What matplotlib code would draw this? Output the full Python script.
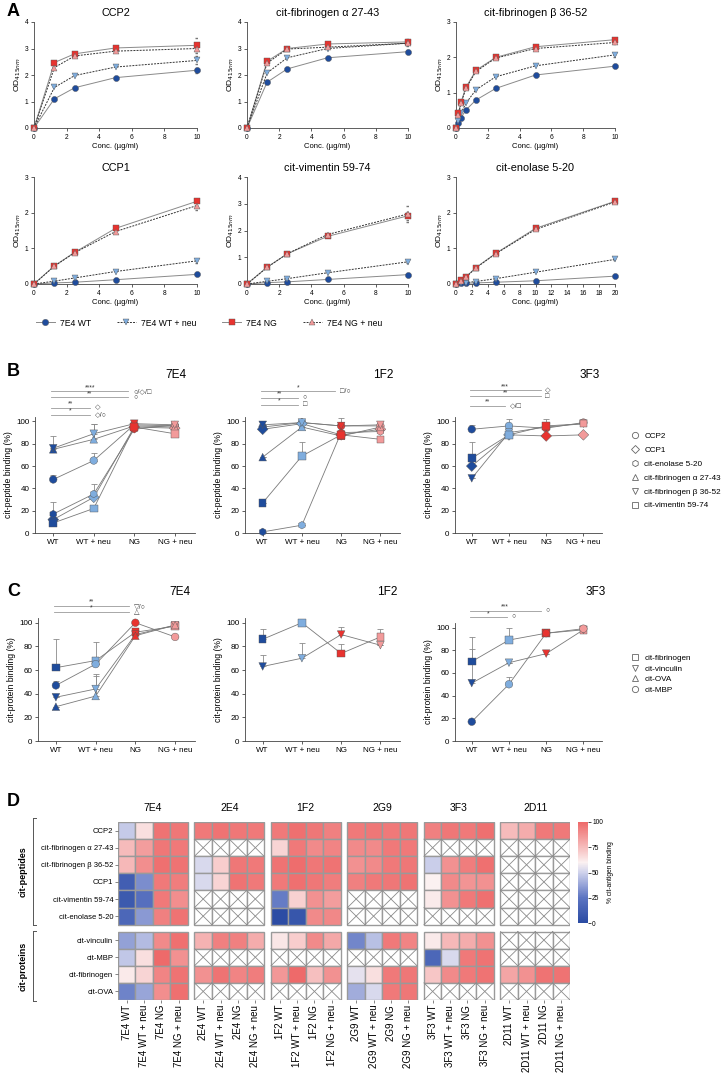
import numpy as np
import matplotlib
matplotlib.use("Agg")
import matplotlib.pyplot as plt
from matplotlib.colors import LinearSegmentedColormap, Normalize
from matplotlib.patches import Rectangle
from matplotlib.lines import Line2D
import matplotlib.cm as cm

plt.rcParams['font.family'] = ['Liberation Sans', 'DejaVu Sans']

# ---------------- data ----------------
# panel A: ELISA titrations (OD415)
conc = [0, 1.25, 2.5, 5, 10]
conc_fb = [0, 0.156, 0.3125, 0.625, 1.25, 2.5, 5, 10]
conc_en = [0, 0.625, 1.25, 2.5, 5, 10, 20]
a_titles = ['CCP2', 'cit-fibrinogen α 27-43', 'cit-fibrinogen β 36-52',
            'CCP1', 'cit-vimentin 59-74', 'cit-enolase 5-20']
a_x = [conc, conc, conc_fb, conc, conc, conc_en]
a_wt = [[0, 1.1, 1.52, 1.9, 2.18],
        [0, 1.73, 2.23, 2.65, 2.88],
        [0, 0.15, 0.29, 0.51, 0.79, 1.12, 1.5, 1.75],
        [0, 0.03, 0.05, 0.12, 0.27],
        [0, 0.05, 0.08, 0.17, 0.35],
        [0, 0.02, 0.02, 0.03, 0.05, 0.09, 0.22]]
a_wtn = [[0, 1.53, 1.98, 2.3, 2.55],
         [0, 2.08, 2.65, 3.0, 3.2],
         [0, 0.2, 0.42, 0.7, 1.08, 1.45, 1.76, 2.07],
         [0, 0.08, 0.17, 0.35, 0.65],
         [0, 0.1, 0.2, 0.42, 0.83],
         [0, 0.02, 0.04, 0.07, 0.15, 0.33, 0.69]]
a_ng = [[0, 2.47, 2.8, 3.02, 3.12],
        [0, 2.52, 3.0, 3.17, 3.25],
        [0, 0.42, 0.73, 1.15, 1.63, 2.0, 2.3, 2.5],
        [0, 0.51, 0.89, 1.56, 2.32],
        [0, 0.63, 1.13, 1.78, 2.55],
        [0, 0.1, 0.2, 0.46, 0.86, 1.56, 2.32]]
a_ngn = [[0, 2.28, 2.72, 2.9, 3.0],
         [0, 2.45, 2.98, 3.05, 3.2],
         [0, 0.38, 0.7, 1.12, 1.6, 1.98, 2.25, 2.42],
         [0, 0.5, 0.88, 1.47, 2.2],
         [0, 0.62, 1.13, 1.85, 2.62],
         [0, 0.09, 0.19, 0.45, 0.85, 1.53, 2.3]]
# upper error at the highest concentration (WT, WT+neu, NG, NG+neu)
a_err_last = [[0.1, 0.15, 0.28, 0.1],
              [0.05, 0.1, 0.1, 0.08],
              [0.03, 0.05, 0.05, 0.05],
              [0.03, 0.05, 0.05, 0.12],
              [0.03, 0.05, 0.15, 0.3],
              [0.02, 0.03, 0.03, 0.03]]
a_ymax = [4, 4, 3, 3, 4, 3]
a_xmax = [10, 10, 10, 10, 10, 20]

conds = ['WT', 'WT + neu', 'NG', 'NG + neu']

# panel B: cit-peptide binding (%)
peptides = ['CCP2', 'CCP1', 'cit-enolase 5-20', 'cit-fibrinogen α 27-43',
            'cit-fibrinogen β 36-52', 'cit-vimentin 59-74']
pep_markers = ['o', 'D', 'h', '^', 'v', 's']
b_7e4 = [[48, 65, 97, 96], [12, 32, 95, 94], [17, 35, 93, 97],
         [75, 84, 96, 95], [76, 89, 98, 97], [9, 22, 95, 89]]
b_7e4_err = [[4, 7, 3, 2], [0, 0, 0, 0], [11, 9, 2, 1],
             [12, 14, 2, 1], [0, 9, 1, 1], [2, 0, 1, 0]]
b_1f2 = [[95, 99, 96, 96], [93, 98, 88, 93], [1, 7, 90, 91],
         [68, 95, 87, 95], [97, 99, 96, 97], [27, 69, 88, 84]]
b_1f2_err = [[5, 2, 7, 2], [0, 0, 0, 0], [0, 0, 0, 0],
             [0, 0, 0, 0], [0, 0, 0, 0], [0, 13, 0, 0]]
b_3f3 = [[93, 96, 94, 99], [60, 88, 87, 88], None,
         None, [49, 90, 95, 98], [67, 88, 96, 98]]
b_3f3_err = [[4, 6, 8, 0], [0, 0, 0, 0], None,
             None, [0, 0, 0, 0], [15, 0, 0, 0]]

# panel C: cit-protein binding (%)
proteins = ['cit-fibrinogen', 'cit-vinculin', 'cit-OVA', 'cit-MBP']
prot_markers = ['s', 'v', '^', 'o']
c_7e4 = [[62, 68, 92, 97], [37, 44, 90, 98], [29, 38, 89, 98], [47, 65, 100, 88]]
c_7e4_err = [[24, 16, 0, 0], [0, 13, 0, 0], [0, 17, 0, 0], [4, 0, 0, 0]]
c_1f2 = [[86, 100, 74, 88], [63, 70, 90, 81], None, None]
c_1f2_err = [[9, 0, 8, 7], [10, 13, 6, 0], None, None]
c_3f3 = [[70, 89, 95, 98], [51, 69, 77, 98], None, [17, 50, 95, 99]]
c_3f3_err = [[22, 11, 0, 0], [30, 0, 0, 0], None, [0, 6, 0, 0]]

# panel D: heatmap (% cit-antigen binding, nan = not tested)
nan = np.nan
hm_rows = ['CCP2', 'cit-fibrinogen α 27-43', 'cit-fibrinogen β 36-52', 'CCP1',
           'cit-vimentin 59-74', 'cit-enolase 5-20',
           'cit-vinculin', 'cit-MBP', 'cit-fibrinogen', 'cit-OVA']
hm_abs = ['7E4', '2E4', '1F2', '2G9', '3F3', '2D11']
hm_7e4 = [[48, 65, 97, 96], [75, 84, 96, 95], [76, 89, 98, 97], [12, 32, 95, 94],
          [9, 22, 95, 89], [17, 35, 93, 97],
          [37, 44, 90, 98], [47, 65, 100, 88], [62, 68, 92, 97], [29, 38, 89, 98]]
hm_2e4 = [[95, 97, 96, 95], [nan] * 4, [52, 70, 96, 95], [52, 68, 97, 95],
          [nan] * 4, [nan] * 4,
          [78, 93, 93, 80], [nan] * 4, [88, 97, 92, 94], [nan] * 4]
hm_1f2 = [[95, 98, 96, 93], [68, 95, 90, 92], [97, 99, 96, 97], [95, 98, 96, 94],
          [27, 69, 88, 84], [1, 7, 90, 91],
          [63, 70, 90, 81], [nan] * 4, [86, 100, 74, 88], [nan] * 4]
hm_2g9 = [[95, 96, 95, 96], [90, 90, 95, 95], [88, 90, 95, 96], [93, 95, 96, 97],
          [nan] * 4, [nan] * 4,
          [30, 45, 95, 92], [nan] * 4, [55, 65, 95, 96], [40, 52, 95, 96]]
hm_3f3 = [[93, 96, 95, 98], [nan] * 4, [49, 88, 94, 98], [60, 90, 87, 88],
          [62, 88, 95, 98], [nan] * 4,
          [62, 76, 80, 88], [17, 52, 95, 97], [72, 90, 95, 97], [nan] * 4]
hm_2d11 = [[75, 80, 95, 95], [nan] * 4, [nan] * 4, [nan] * 4,
           [nan] * 4, [nan] * 4,
           [nan] * 4, [nan] * 4, [82, 88, 97, 97], [nan] * 4]

# ---------------- style ----------------
c_wt, c_wtn, c_ng, c_ngn = '#1f4c9c', '#7fadde', '#e8332f', '#f29a9a'
cond_colors = [c_wt, c_wtn, c_ng, c_ngn]
W, H = 722, 1080
fig = plt.figure(figsize=(W / 100, H / 100), dpi=100)


def add_ax(l, t, r, b):
    return fig.add_axes([l / W, 1 - b / H, (r - l) / W, (b - t) / H])


def style(ax, fs):
    for s in ['top', 'right']:
        ax.spines[s].set_visible(False)
    for s in ['left', 'bottom']:
        ax.spines[s].set_linewidth(0.6)
        ax.spines[s].set_color('#444444')
    ax.tick_params(labelsize=fs, width=0.6, length=2.5, pad=1.5, color='#444444')


# ---------------- panel A ----------------
a_boxes = [(34, 22, 197, 128), (247, 22, 408, 128), (456, 22, 615, 128),
           (34, 177, 197, 284), (247, 177, 408, 284), (456, 177, 615, 284)]
for i, box in enumerate(a_boxes):
    ax = add_ax(*box)
    style(ax, 4.8)
    x = a_x[i]
    series = [(a_wt[i], c_wt, 'o', '-', '#8a8a8a'),
              (a_wtn[i], c_wtn, 'v', (0, (2, 1.2)), '#333333'),
              (a_ng[i], c_ng, 's', '-', '#8a8a8a'),
              (a_ngn[i], c_ngn, '^', (0, (2, 1.2)), '#333333')]
    for k, (y, col, mk, ls, lc) in enumerate(series):
        ax.plot(x, y, ls=ls, color=lc, lw=0.7, zorder=2)
        ax.errorbar([x[-1]], [y[-1]], yerr=[[a_err_last[i][k]], [a_err_last[i][k]]],
                    fmt='none', ecolor='#777777', elinewidth=0.5, capsize=1.8, zorder=2)
        ax.plot(x, y, ls='none', marker=mk, ms=4.4, mfc=col, mec='#555555',
                mew=0.3, zorder=3, clip_on=False)
    ax.set_xlim(0, a_xmax[i])
    ax.set_ylim(0, a_ymax[i])
    ax.set_xticks(np.arange(0, a_xmax[i] + 1, 2))
    ax.set_yticks(np.arange(0, a_ymax[i] + 1, 1))
    ax.set_title(a_titles[i], fontsize=7.8, pad=4)
    ax.set_xlabel('Conc. (µg/ml)', fontsize=5.5, labelpad=1.5)
    ax.set_ylabel('OD$_{415nm}$', fontsize=6, labelpad=1.5)

leg_handles = [Line2D([], [], color='#8a8a8a', lw=0.7, marker='o', ms=4.6, mfc=c_wt, mec='#555', mew=0.3),
               Line2D([], [], color='#333', lw=0.7, ls=(0, (2, 1.2)), marker='v', ms=4.6, mfc=c_wtn, mec='#555', mew=0.3),
               Line2D([], [], color='#8a8a8a', lw=0.7, marker='s', ms=4.6, mfc=c_ng, mec='#555', mew=0.3),
               Line2D([], [], color='#333', lw=0.7, ls=(0, (2, 1.2)), marker='^', ms=4.6, mfc=c_ngn, mec='#555', mew=0.3)]
fig.legend(leg_handles, ['7E4 WT', '7E4 WT + neu', '7E4 NG', '7E4 NG + neu'],
           loc='center left', bbox_to_anchor=(28 / W, 1 - 323 / H), ncol=4,
           frameon=False, fontsize=6.2, handlelength=2.2, columnspacing=3.0,
           handletextpad=0.6)


# ---------------- panels B and C ----------------
def group_panel(box, title, title_xy, data, errs, markers, ylabel, sigs):
    ax = add_ax(*box)
    style(ax, 5.8)
    xs = np.arange(4)
    for k, vals in enumerate(data):
        if vals is None:
            continue
        ax.plot(xs, vals, color='#7a7a7a', lw=0.6, zorder=2)
        e = errs[k]
        ax.errorbar(xs, vals, yerr=[np.zeros(4), e], fmt='none', ecolor='#8a8a8a',
                    elinewidth=0.6, capsize=2.2, capthick=0.6, zorder=1)
        ax.scatter(xs, vals, marker=markers[k], s=30, c=cond_colors,
                   edgecolors='#555555', linewidths=0.3, zorder=3, clip_on=False)
    ax.set_xlim(-0.45, 3.5)
    ax.set_ylim(0, 104)
    ax.set_yticks([0, 20, 40, 60, 80, 100])
    ax.set_xticks(xs)
    ax.set_xticklabels(conds)
    ax.spines['left'].set_bounds(0, 104)
    ax.set_ylabel(ylabel, fontsize=6.2, labelpad=2)
    fig.text(title_xy[0] / W, 1 - title_xy[1] / H, title, ha='right', va='center',
             fontsize=8.5)
    for (x1, yy, stars, sym) in sigs:
        ax.plot([-0.05, x1], [yy, yy], color='#9a9a9a', lw=0.6, clip_on=False)
        ax.text((x1 - 0.05) / 2, yy + 0.3, stars, ha='center', va='bottom',
                fontsize=4.8, color='#333333')
        ax.text(x1 + 0.12, yy, sym, ha='left', va='center', fontsize=5.2,
                color='#444444')
    return ax


group_panel((35, 417, 195, 533), '7E4', (186, 375), b_7e4, b_7e4_err, pep_markers,
            'cit-peptide binding (%)',
            [(1.85, 127, '****', '○/◇/□'), (1.85, 121.5, '**', '○'),
             (0.9, 112, '**', '◇'), (0.9, 106, '*', '◇/○')])
group_panel((245, 417, 400, 533), '1F2', (393, 375), b_1f2, b_1f2_err, pep_markers,
            'cit-peptide binding (%)',
            [(1.85, 127, '*', '□/○'), (0.9, 121, '**', '○'), (0.9, 115, '*', '□')])
group_panel((455, 417, 602, 533), '3F3', (600, 375), b_3f3, b_3f3_err, pep_markers,
            'cit-peptide binding (%)',
            [(1.85, 128, '***', '◇'), (1.85, 122.5, '**', '□'), (0.9, 114, '**', '◇/□')])

group_panel((38, 618, 195, 741), '7E4', (190, 592), c_7e4, c_7e4_err, prot_markers,
            'cit-protein binding (%)',
            [(1.85, 114, '**', '▽/○'), (1.85, 109, '*', '△')])
group_panel((245, 618, 400, 741), '1F2', (397, 592), c_1f2, c_1f2_err, prot_markers,
            'cit-protein binding (%)', [])
group_panel((455, 623, 602, 741), '3F3', (606, 592), c_3f3, c_3f3_err, prot_markers,
            'cit-protein binding (%)',
            [(1.85, 114.5, '***', '○'), (0.95, 109, '*', '○')])

b_handles = [Line2D([], [], ls='none', marker=m, ms=4.5, mfc='none', mec='#666', mew=0.6)
             for m in pep_markers]
fig.legend(b_handles, peptides, loc='upper left', bbox_to_anchor=(628 / W, 1 - 429 / H),
           frameon=False, fontsize=5.9, handletextpad=0.6, labelspacing=0.75,
           handlelength=1.0, borderaxespad=0)
c_handles = [Line2D([], [], ls='none', marker=m, ms=4.5, mfc='none', mec='#666', mew=0.6)
             for m in prot_markers]
fig.legend(c_handles, proteins, loc='upper left', bbox_to_anchor=(628 / W, 1 - 651 / H),
           frameon=False, fontsize=5.9, handletextpad=0.6, labelspacing=0.35,
           handlelength=1.0, borderaxespad=0)

# ---------------- panel D heatmap ----------------
cmap = LinearSegmentedColormap.from_list(
    'bwr_hm', [(0.0, '#2a4ba3'), (0.25, '#5c74c2'), (0.5, '#cfd2ec'),
               (0.6, '#fbf1f1'), (0.75, '#f6bcbc'), (1.0, '#ee6a6a')])
norm = Normalize(0, 100)
hm_all = [hm_7e4, hm_2e4, hm_1f2, hm_2g9, hm_3f3, hm_2d11]
gap_x, gap_y = 0.4, 0.4
ax = add_ax(118, 822, 570, 1000)
col_pos, col_lab = [], []
for g, ab in enumerate(hm_abs):
    mat = np.array(hm_all[g], dtype=float)
    for j in range(4):
        x0 = g * (4 + gap_x) + j
        col_pos.append(x0 + 0.5)
        col_lab.append(f'{ab} {conds[j]}')
        for r in range(len(hm_rows)):
            y0 = r + (gap_y if r >= 6 else 0)
            v = mat[r, j]
            if np.isnan(v):
                ax.add_patch(Rectangle((x0, y0), 1, 1, facecolor='white',
                                       edgecolor='#9a9a9a', lw=1.0))
                ax.plot([x0, x0 + 1], [y0, y0 + 1], color='#8a8a8a', lw=0.6)
                ax.plot([x0, x0 + 1], [y0 + 1, y0], color='#8a8a8a', lw=0.6)
            else:
                ax.add_patch(Rectangle((x0, y0), 1, 1, facecolor=cmap(norm(v)),
                                       edgecolor='#9a9a9a', lw=1.0))
    ax.text(g * (4 + gap_x) + 2, -0.55, ab, ha='center', va='bottom', fontsize=7.5)
ax.set_xlim(0, 6 * 4 + 5 * gap_x)
ax.set_ylim(len(hm_rows) + gap_y, 0)
ax.set_yticks([r + 0.5 + (gap_y if r >= 6 else 0) for r in range(len(hm_rows))])
ax.set_yticklabels(hm_rows, fontsize=5.5)
ax.set_xticks(col_pos)
ax.set_xticklabels(col_lab, rotation=90, fontsize=7)
ax.tick_params(length=2, width=0.5, pad=1.5, color='#555555')
for s in ax.spines.values():
    s.set_visible(False)

# group brackets
for (t, b, lab) in [(818, 925, 'cit-peptides'), (931, 1001, 'cit-proteins')]:
    fig.add_artist(Line2D([33 / W, 33 / W], [1 - t / H, 1 - b / H], color='#555', lw=0.7))
    for yy in (t, b):
        fig.add_artist(Line2D([33 / W, 36 / W], [1 - yy / H, 1 - yy / H], color='#555', lw=0.7))
    fig.text(23 / W, 1 - (t + b) / 2 / H, lab, rotation=90, ha='center', va='center',
             fontsize=6.5, fontweight='bold')

cax = add_ax(578, 822, 588, 923)
cb = fig.colorbar(cm.ScalarMappable(norm=norm, cmap=cmap), cax=cax)
cb.set_ticks([0, 25, 50, 75, 100])
cb.ax.tick_params(labelsize=4.8, length=2, width=0.5, pad=1)
cb.outline.set_visible(False)
cb.set_label('% cit-antigen binding', fontsize=4.8, labelpad=3)

# panel letters
for lab, y in [('A', 12), ('B', 372), ('C', 592), ('D', 802)]:
    fig.text(7 / W, 1 - y / H, lab, fontsize=13, fontweight='bold', va='center')

fig.savefig('out.png', dpi=100)
